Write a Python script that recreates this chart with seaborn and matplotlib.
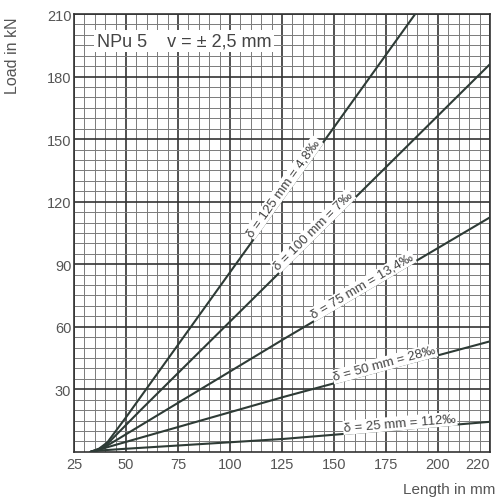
import numpy as np
import pandas as pd
import matplotlib
matplotlib.use("Agg")
import matplotlib.pyplot as plt
import seaborn as sns

# ---- data ----
series_names = ["125", "100", "75", "50", "25"]
x_125 = [33, 37, 41, 50.6, 189]
y_125 = [0, 1.5, 4.5, 17.4, 210]
x_100 = [33, 37, 41, 57, 225]
y_100 = [0, 1.3, 3.8, 20, 186]
x_75 = [33, 37, 41, 126, 225]
y_75 = [0, 1.1, 3.0, 54.2, 112.5]
x_50 = [33, 37, 41, 126, 225]
y_50 = [0, 0.9, 2.2, 26.4, 53]
x_25 = [33, 37, 49, 126, 225]
y_25 = [0, 0.6, 1.4, 6.2, 14.4]

labels = ["δ = 125 mm = 4,8‰", "δ = 100 mm = 7‰", "δ = 75 mm = 13,4‰",
          "δ = 50 mm = 28‰", "δ = 25 mm = 112‰"]
label_x = [128, 142, 165, 175, 182]

x_ticks = [25, 50, 75, 100, 125, 150, 175, 200, 225]
x_tick_labels = ["25", "50", "75", "100", "125", "150", "175", "200", "220"]
y_ticks = [30, 60, 90, 120, 150, 180, 210]
y_tick_labels = ["30", "60", "90", "120", "150", "180", "210"]

xs = [x_125, x_100, x_75, x_50, x_25]
ys = [y_125, y_100, y_75, y_50, y_25]

rows = []
for name, xv, yv in zip(series_names, xs, ys):
    for a, b in zip(xv, yv):
        rows.append({"length": a, "load": b, "delta": name})
df = pd.DataFrame(rows)

sns.set_style("white")
plt.rcParams['font.family'] = ['Liberation Sans', 'DejaVu Sans']

fig = plt.figure(figsize=(4.97, 5.02), dpi=100)
ax = fig.add_axes([0.149, 0.098, 0.837, 0.872])

line_color = "#2e3b36"
sns.lineplot(data=df, x="length", y="load", hue="delta", units="delta",
             estimator=None, sort=False,
             palette={n: line_color for n in series_names},
             linewidth=1.5, legend=False, ax=ax, zorder=3)

ax.set_xlim(25, 225)
ax.set_ylim(0, 210)

# grid
ax.set_xticks(x_ticks)
ax.set_xticklabels(x_tick_labels)
ax.set_yticks(y_ticks)
ax.set_yticklabels(y_tick_labels)
ax.set_xticks(np.arange(25, 226, 5), minor=True)
ax.set_yticks(np.arange(0, 211, 5), minor=True)
ax.grid(which="minor", color="#7a7a7a", linewidth=0.7)
ax.grid(which="major", color="#333333", linewidth=1.2)
ax.set_axisbelow(True)
ax.tick_params(which="both", length=0, labelsize=10.5, colors="#555555")
ax.tick_params(axis="y", pad=2)
ax.tick_params(axis="x", pad=4)
ax.get_xticklabels()[-1].set_horizontalalignment("right")
for s in ax.spines.values():
    s.set_color("#333333")
    s.set_linewidth(1.2)

# line labels
for lab, lx, xv, yv in zip(labels, label_x, xs, ys):
    ly = np.interp(lx, xv, yv)
    i = np.searchsorted(xv, lx)
    ang = np.degrees(np.arctan2(yv[i] - yv[i - 1], xv[i] - xv[i - 1]))
    ax.text(lx, ly, lab, rotation=ang, transform_rotates_text=True,
            rotation_mode="anchor", ha="center", va="bottom",
            fontsize=9.5, color="#444444", zorder=4,
            bbox=dict(facecolor="white", edgecolor="none", pad=0.8))

ax.text(36, 197, "NPu 5    v = ± 2,5 mm", fontsize=13, color="#444444",
        ha="left", va="center", zorder=4,
        bbox=dict(facecolor="white", edgecolor="none", pad=2))

ax.set_ylabel("Load in kN", fontsize=11.5, color="#555555", loc="top")
ax.yaxis.set_label_coords(-0.13, 0.995)
ax.set_xlabel("Length in mm", fontsize=11, color="#555555", loc="right")
ax.xaxis.set_label_coords(1.012, -0.068)

fig.savefig("out.png", dpi=100)
